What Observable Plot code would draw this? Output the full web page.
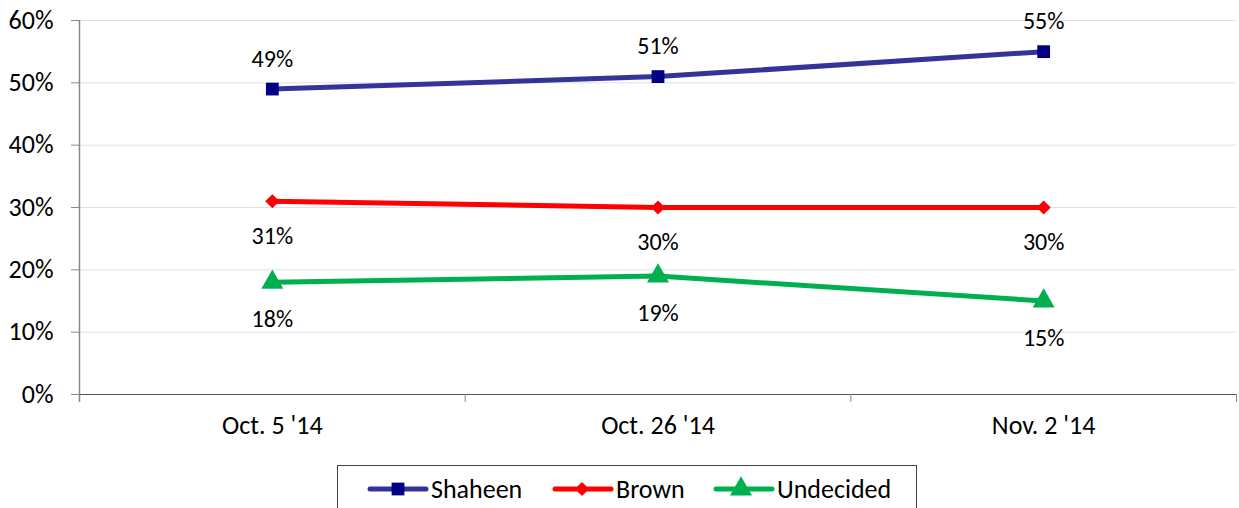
<!DOCTYPE html>
<html>
<head>
<meta charset="utf-8">
<script src="https://cdn.jsdelivr.net/npm/d3@7"></script>
<script src="https://cdn.jsdelivr.net/npm/@observablehq/plot@0.6"></script>
<style>
  html, body { margin: 0; padding: 0; background: #fff; }
  #chart { position: relative; width: 1239px; height: 508px; overflow: hidden; font-family: Carlito, Calibri, Lato, sans-serif; }
  #legend { position: absolute; left: 337px; top: 465px; width: 578px; height: 50px; border: 1px solid #444; box-sizing: content-box; }
  .item { position: absolute; top: 7px; display: flex; align-items: center; font-size: 26px; color: #000; }
  .item svg { margin-right: 2px; }
</style>
</head>
<body>
<div id="chart"></div>
<script>
const categories = ["Oct. 5 '14", "Oct. 26 '14", "Nov. 2 '14"];
const seriesNames = ["Shaheen", "Brown", "Undecided"];
const shaheen = [49, 51, 55];
const brown = [31, 30, 30];
const undecided = [18, 19, 15];
const yTicks = [0, 10, 20, 30, 40, 50, 60];

const lineColors = {Shaheen: "#333399", Brown: "#ff0000", Undecided: "#00b050"};
const markColors = {Shaheen: "#000080", Brown: "#ff0000", Undecided: "#00b050"};
const symbols = {Shaheen: "square", Brown: "diamond2", Undecided: "triangle"};
const radii = {Shaheen: 7.2, Brown: 6.4, Undecided: 8.2};
const labelDy = {Shaheen: -30, Brown: 35, Undecided: 37};

const valuesBySeries = {Shaheen: shaheen, Brown: brown, Undecided: undecided};
const rows = [];
for (const s of seriesNames) {
  valuesBySeries[s].forEach((v, i) => rows.push({series: s, i, cat: categories[i], value: v}));
}
const boundaries = d3.range(categories.length + 1).map(k => k - 0.5);

const marks = [
  Plot.gridY(yTicks, {stroke: "#d9e1f2", strokeOpacity: 1}),
  Plot.ruleY([0], {stroke: "#555", strokeWidth: 1.2}),
  Plot.ruleX([-0.5], {stroke: "#888", strokeWidth: 1.5, insetBottom: -8}),
  Plot.axisY({ticks: yTicks, tickFormat: d => d + "%", tickSize: 8, tickPadding: 18, stroke: "#888", fontSize: 26, label: null}),
  Plot.axisX({ticks: boundaries, tickSize: 8, tickFormat: () => "", stroke: "#888", label: null}),
  Plot.axisX({ticks: d3.range(categories.length), tickSize: 0, tickPadding: 21, tickFormat: i => categories[i], fontSize: 26, label: null})
];
for (const s of seriesNames) {
  const d = rows.filter(r => r.series === s);
  marks.push(Plot.line(d, {x: "i", y: "value", stroke: lineColors[s], strokeWidth: 5}));
}
for (const s of seriesNames) {
  const d = rows.filter(r => r.series === s);
  marks.push(Plot.dot(d, {x: "i", y: "value", symbol: symbols[s], r: radii[s], fill: markColors[s], stroke: "none"}));
  marks.push(Plot.text(d, {x: "i", y: "value", text: r => r.value + "%", dy: labelDy[s], fontSize: 24, fill: "#000"}));
}

const plot = Plot.plot({
  width: 1239,
  height: 460,
  marginLeft: 79,
  marginRight: 3,
  marginTop: 20,
  marginBottom: 66,
  x: {type: "linear", domain: [-0.5, categories.length - 0.5]},
  y: {domain: [0, 60]},
  style: {fontFamily: "Carlito, Calibri, Lato, sans-serif", background: "#fff", color: "#000"},
  marks
});
const chart = document.getElementById("chart");
chart.appendChild(plot);

// legend
const legend = document.createElement("div");
legend.id = "legend";
const itemLefts = [29, 214, 375];
seriesNames.forEach((s, k) => {
  const item = document.createElement("div");
  item.className = "item";
  item.style.left = itemLefts[k] + "px";
  const symType = {square: d3.symbolSquare, diamond2: d3.symbolDiamond2, triangle: d3.symbolTriangle}[symbols[s]];
  const size = Math.PI * radii[s] * radii[s];
  const path = d3.symbol(symType, size)();
  item.innerHTML = `<svg width="62" height="26" viewBox="0 0 62 26">
    <line x1="3" y1="13" x2="59" y2="13" stroke="${lineColors[s]}" stroke-width="5" stroke-linecap="round"/>
    <path d="${path}" transform="translate(${s === "Shaheen" ? 31 : s === "Brown" ? 30 : 28},13)" fill="${markColors[s]}"/>
  </svg><span>${s}</span>`;
  legend.appendChild(item);
});
chart.appendChild(legend);
</script>
</body>
</html>
